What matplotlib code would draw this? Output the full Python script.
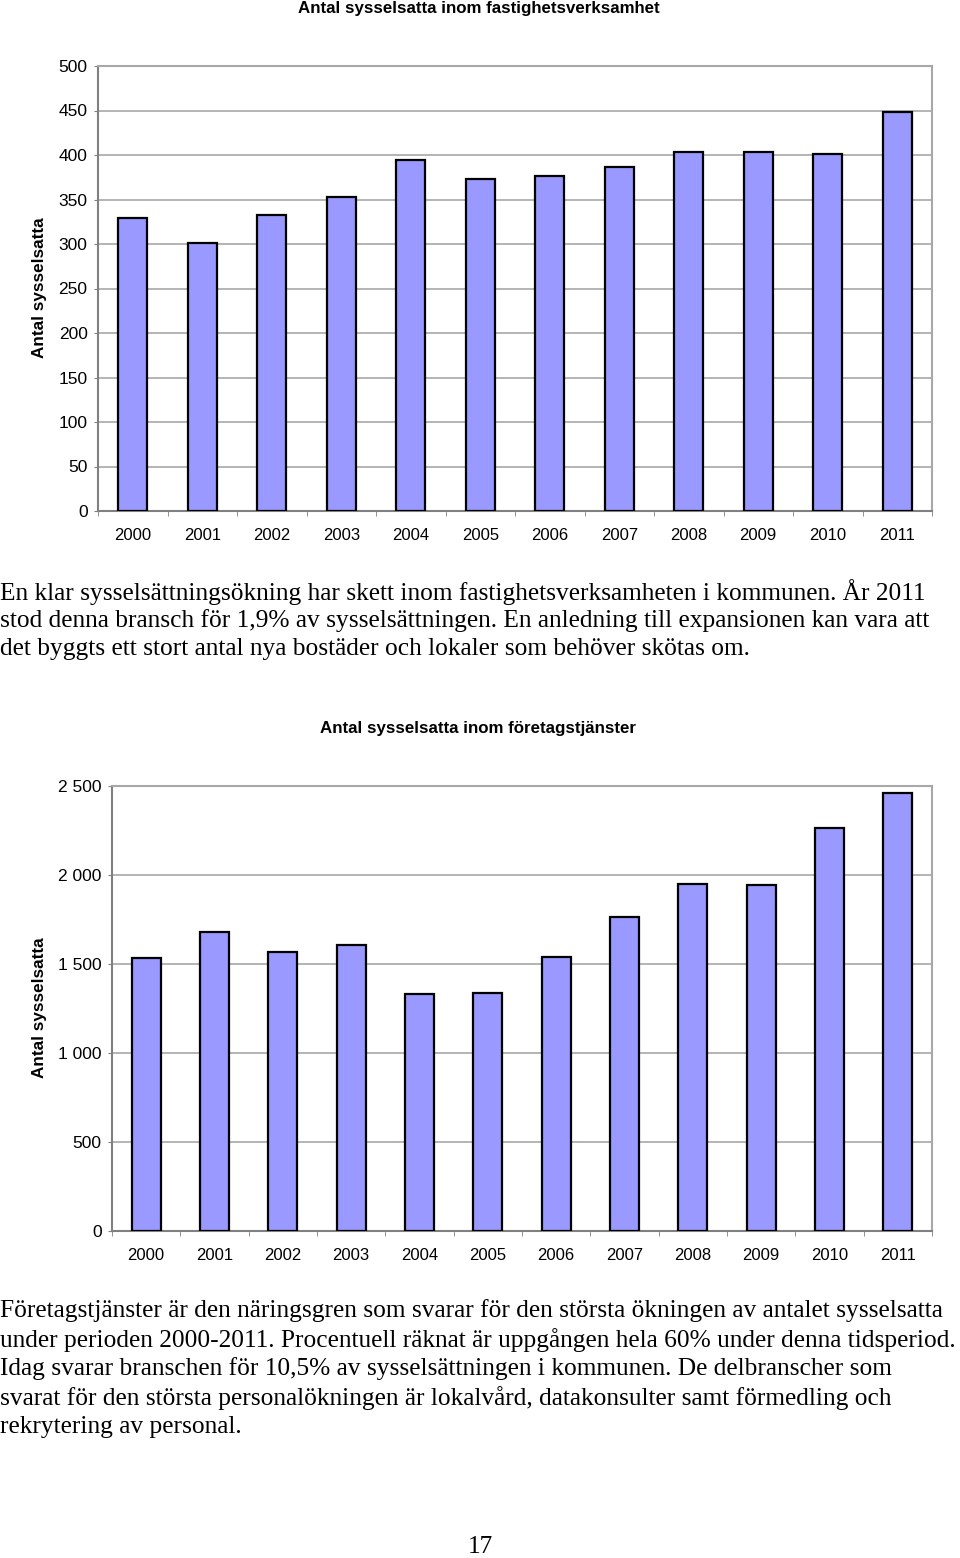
import matplotlib
matplotlib.use("Agg")
import matplotlib.pyplot as plt
from matplotlib.ticker import FuncFormatter

years = [str(y) for y in range(2000, 2012)]
fastighet = [329, 301, 333, 353, 394, 373, 376, 387, 403, 403, 401, 448]
foretag = [1534, 1680, 1567, 1607, 1331, 1337, 1539, 1764, 1949, 1944, 2264, 2461]

title_top = "Antal sysselsatta inom fastighetsverksamhet"
title_bottom = "Antal sysselsatta inom företagstjänster"
ylabel = "Antal sysselsatta"

para1 = [
    "En klar sysselsättningsökning har skett inom fastighetsverksamheten i kommunen. År 2011",
    "stod denna bransch för 1,9% av sysselsättningen. En anledning till expansionen kan vara att",
    "det byggts ett stort antal nya bostäder och lokaler som behöver skötas om.",
]
para2 = [
    "Företagstjänster är den näringsgren som svarar för den största ökningen av antalet sysselsatta",
    "under perioden 2000-2011. Procentuell räknat är uppgången hela 60% under denna tidsperiod.",
    "Idag svarar branschen för 10,5% av sysselsättningen i kommunen. De delbranscher som",
    "svarat för den största personalökningen är lokalvård, datakonsulter samt förmedling och",
    "rekrytering av personal.",
]

W, H = 960, 1558
BAR = "#9999FF"
GRID = "#a8a8a8"
SANS = ["Liberation Sans", "DejaVu Sans"]
SERIF = ["Liberation Serif", "DejaVu Serif"]

plt.rcParams["font.family"] = SANS

fig = plt.figure(figsize=(W / 100, H / 100), dpi=100)


def px_axes(left, top, right, bottom):
    return fig.add_axes([left / W, 1 - bottom / H, (right - left) / W, (bottom - top) / H])


def style_bar_axes(ax, values, ymax, step, fmt):
    x = range(len(values))
    ax.bar(x, values, width=0.42, color=BAR, edgecolor="black", linewidth=1.6, zorder=3)
    ax.set_xlim(-0.5, len(values) - 0.5)
    ax.set_ylim(0, ymax)
    ax.set_yticks(range(0, ymax + 1, step))
    ax.yaxis.set_major_formatter(FuncFormatter(fmt))
    ax.set_xticks(list(x))
    ax.set_xticklabels(years)
    ax.set_xticks([i - 0.5 for i in range(len(values) + 1)], minor=True)
    ax.tick_params(axis="x", which="major", length=0, pad=12, labelsize=12)
    ax.tick_params(axis="x", which="minor", length=3.5, color="#808080")
    ax.tick_params(axis="y", length=3, color="#808080", pad=4.5, labelsize=12.5)
    ax.grid(axis="y", color=GRID, linewidth=1.2, zorder=0)
    for side in ("left", "bottom"):
        ax.spines[side].set_color("#808080")
        ax.spines[side].set_linewidth(1.5)
    for side in ("top", "right"):
        ax.spines[side].set_color("#a8a8a8")
        ax.spines[side].set_linewidth(1.5)


# top chart
ax1 = px_axes(98, 66, 932, 511)
style_bar_axes(ax1, fastighet, 500, 50, lambda v, p: f"{int(v)}")
fig.text(479 / W, 1 - 8 / H, title_top, ha="center", va="center",
         fontsize=12.2, fontweight="bold")
fig.text(40 / W, 1 - 288 / H, ylabel, ha="center", va="center", rotation=90,
         fontsize=12.3, fontweight="bold")

# bottom chart
ax2 = px_axes(112, 786, 932, 1231)
style_bar_axes(ax2, foretag, 2500, 500,
               lambda v, p: f"{int(v):,}".replace(",", " "))
fig.text(478 / W, 1 - 728 / H, title_bottom, ha="center", va="center",
         fontsize=12.2, fontweight="bold")
fig.text(40 / W, 1 - 1008 / H, ylabel, ha="center", va="center", rotation=90,
         fontsize=12.3, fontweight="bold")

# body text
for i, line in enumerate(para1):
    fig.text(0, 1 - (592 + i * 28.7) / H, line, ha="left", va="center",
             fontsize=18.3, family=SERIF)
for i, line in enumerate(para2):
    fig.text(0, 1 - (1311 + i * 29) / H, line, ha="left", va="center",
             fontsize=18.3, family=SERIF)

fig.text(480 / W, 1 - 1547 / H, "17", ha="center", va="center",
         fontsize=18.3, family=SERIF)

fig.savefig("out.png", dpi=100)
